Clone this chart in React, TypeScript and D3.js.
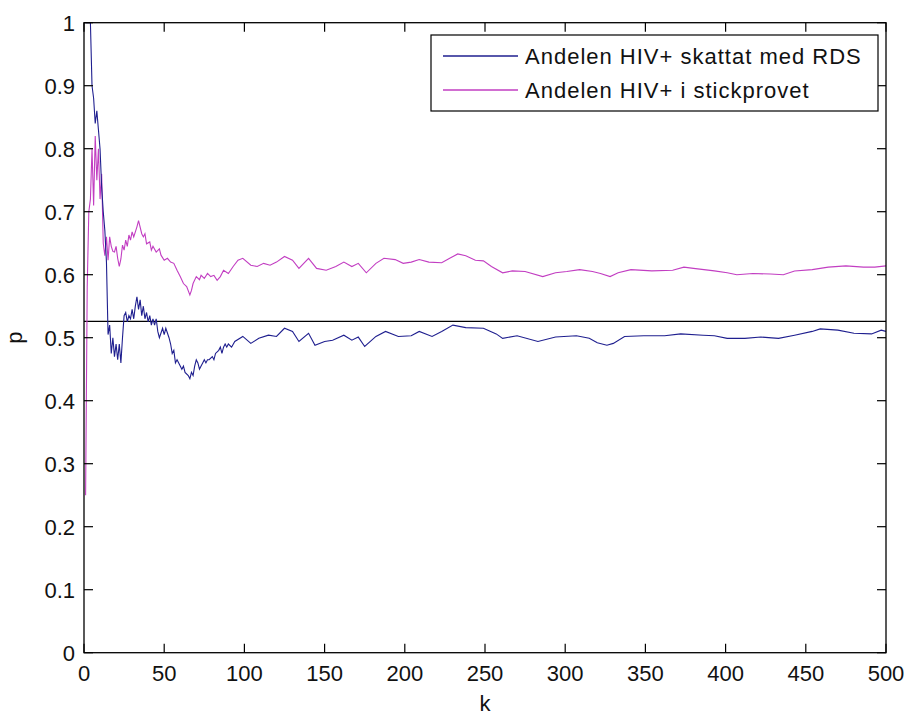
import React from "react";
import * as d3 from "d3";

const W = 907;
const H = 715;

// Estimated RDS series (blue)
const rdsK = [1, 4, 5, 6, 7, 8, 9, 10, 11, 12, 13, 14, 15, 16, 17, 18, 19, 20, 21, 22, 23, 24, 25, 26, 27, 28, 29, 30, 31, 32, 33, 34, 35, 36, 37, 38, 39, 40, 41, 42, 43, 44, 45, 46, 47, 49, 50, 51, 53, 54, 55, 56, 57, 58, 60, 61, 62, 63, 65, 66, 67, 68, 69, 70, 71, 72, 73, 74, 75, 76, 77, 78, 80, 81, 82, 84, 85, 86, 87, 88, 89, 90, 92, 94, 99, 104, 109, 115, 120, 125, 130, 134, 140, 144, 150, 155, 162, 167, 171, 175, 182, 188, 196, 204, 209, 217, 223, 230, 238, 249, 257, 261, 270, 283, 294, 307, 315, 320, 326, 330, 337, 349, 362, 372, 386, 393, 401, 412, 422, 433, 443, 454, 459, 470, 480, 491, 497, 500];
const rdsP = [1.0, 1.0, 0.9, 0.88, 0.84, 0.86, 0.83, 0.8, 0.74, 0.7, 0.67, 0.62, 0.505, 0.52, 0.475, 0.5, 0.47, 0.49, 0.465, 0.49, 0.46, 0.5, 0.535, 0.54, 0.525, 0.535, 0.53, 0.545, 0.53, 0.55, 0.565, 0.545, 0.56, 0.535, 0.55, 0.53, 0.54, 0.525, 0.535, 0.52, 0.53, 0.52, 0.53, 0.51, 0.5, 0.515, 0.505, 0.515, 0.5, 0.49, 0.475, 0.48, 0.46, 0.465, 0.455, 0.45, 0.455, 0.445, 0.44, 0.435, 0.445, 0.44, 0.455, 0.465, 0.46, 0.45, 0.455, 0.46, 0.465, 0.46, 0.465, 0.465, 0.47, 0.465, 0.475, 0.48, 0.485, 0.475, 0.485, 0.49, 0.485, 0.49, 0.485, 0.494, 0.502, 0.491, 0.499, 0.504, 0.502, 0.515, 0.51, 0.494, 0.507, 0.488, 0.494, 0.496, 0.504, 0.496, 0.501, 0.486, 0.502, 0.51, 0.502, 0.503, 0.51, 0.502, 0.51, 0.52, 0.516, 0.515, 0.506, 0.499, 0.503, 0.494, 0.501, 0.503, 0.499, 0.492, 0.488, 0.491, 0.502, 0.503, 0.503, 0.506, 0.504, 0.503, 0.499, 0.499, 0.501, 0.499, 0.504, 0.51, 0.514, 0.512, 0.507, 0.506, 0.512, 0.51];

// Estimated sample share series (magenta)
const sampleK = [1, 2, 3, 4, 5, 6, 7, 8, 9, 10, 11, 12, 13, 14, 15, 16, 17, 18, 19, 20, 21, 22, 23, 24, 25, 26, 27, 28, 29, 30, 31, 33, 34, 36, 37, 38, 39, 41, 42, 43, 45, 47, 48, 50, 52, 54, 56, 58, 60, 62, 64, 66, 67, 68, 70, 72, 73, 75, 77, 79, 81, 83, 85, 87, 90, 93, 96, 99, 104, 108, 112, 116, 120, 125, 130, 134, 140, 145, 151, 157, 162, 167, 171, 176, 182, 187, 194, 199, 204, 209, 215, 223, 228, 233, 238, 244, 249, 254, 261, 267, 275, 286, 294, 301, 309, 317, 322, 328, 333, 341, 354, 367, 374, 380, 393, 401, 407, 417, 428, 436, 443, 454, 464, 475, 486, 493, 500];
const sampleP = [0.25, 0.58, 0.7, 0.72, 0.8, 0.71, 0.82, 0.75, 0.8, 0.72, 0.76, 0.65, 0.63, 0.66, 0.623, 0.66, 0.645, 0.637, 0.636, 0.645, 0.626, 0.613, 0.625, 0.647, 0.639, 0.655, 0.645, 0.663, 0.655, 0.668, 0.66, 0.676, 0.686, 0.665, 0.66, 0.665, 0.649, 0.652, 0.639, 0.645, 0.636, 0.641, 0.631, 0.623, 0.626, 0.62, 0.618, 0.607, 0.597, 0.586, 0.581, 0.568, 0.575, 0.586, 0.597, 0.592, 0.599, 0.594, 0.602, 0.597, 0.599, 0.591, 0.597, 0.607, 0.602, 0.613, 0.623, 0.626, 0.615, 0.613, 0.618, 0.615, 0.62, 0.629, 0.623, 0.61, 0.626, 0.61, 0.607, 0.613, 0.62, 0.613, 0.618, 0.603, 0.618, 0.626, 0.624, 0.618, 0.62, 0.624, 0.62, 0.619, 0.626, 0.633, 0.63, 0.623, 0.622, 0.613, 0.603, 0.606, 0.605, 0.597, 0.603, 0.605, 0.608, 0.605, 0.602, 0.597, 0.603, 0.608, 0.606, 0.607, 0.612, 0.61, 0.606, 0.603, 0.6, 0.602, 0.601, 0.6, 0.606, 0.608, 0.612, 0.614, 0.612, 0.612, 0.614];

const refLevel = 0.526;
const xTicks = [0, 50, 100, 150, 200, 250, 300, 350, 400, 450, 500];
const yTicks = [0, 0.1, 0.2, 0.3, 0.4, 0.5, 0.6, 0.7, 0.8, 0.9, 1];
const legendLabels = ["Andelen HIV+ skattat med RDS", "Andelen HIV+ i stickprovet"];
const seriesColors = ["#1f1f8f", "#c23ec2"];

const L = 84, R = 886, T = 22.7, B = 652.7;
const FONT = "'Liberation Sans', Arial, sans-serif";

export default function App() {
  const x = d3.scaleLinear().domain([0, 500]).range([L, R]);
  const y = d3.scaleLinear().domain([0, 1]).range([B, T]);
  const line = d3
    .line<[number, number]>()
    .x((d) => x(d[0]))
    .y((d) => y(d[1]));
  const rds: [number, number][] = rdsK.map((k, i) => [k, rdsP[i]]);
  const smp: [number, number][] = sampleK.map((k, i) => [k, sampleP[i]]);
  const tickLen = 9;
  const fmtY = (v: number) => (v === 0 || v === 1 ? String(v) : v.toFixed(1));

  const legX = 431, legY = 35, legW = 878 - 431, legH = 76;
  const rowY = [56, 90];

  return (
    <svg
      width={W}
      height={H}
      style={{ position: "absolute", left: 0, top: 0, background: "#fff" }}
      fontFamily={FONT}
    >
      <rect x={0} y={0} width={W} height={H} fill="#fff" />
      <defs>
        <clipPath id="plotclip">
          <rect x={L} y={T} width={R - L} height={B - T} />
        </clipPath>
      </defs>
      <g clipPath="url(#plotclip)">
        <line x1={x(0)} x2={x(500)} y1={y(refLevel)} y2={y(refLevel)} stroke="#000" strokeWidth={1.3} />
        <path d={line(smp) || ""} fill="none" stroke={seriesColors[1]} strokeWidth={1.1} />
        <path d={line(rds) || ""} fill="none" stroke={seriesColors[0]} strokeWidth={1.1} />
      </g>
      <rect x={L} y={T} width={R - L} height={B - T} fill="none" stroke="#000" strokeWidth={1.3} />
      {xTicks.map((t) => (
        <g key={"x" + t}>
          <line x1={x(t)} x2={x(t)} y1={B} y2={B - tickLen} stroke="#000" strokeWidth={1.2} />
          <line x1={x(t)} x2={x(t)} y1={T} y2={T + tickLen} stroke="#000" strokeWidth={1.2} />
          <text x={x(t)} y={681} textAnchor="middle" fontSize={22} fill="#111">
            {t}
          </text>
        </g>
      ))}
      {yTicks.map((t) => (
        <g key={"y" + t}>
          <line x1={L} x2={L + tickLen} y1={y(t)} y2={y(t)} stroke="#000" strokeWidth={1.2} />
          <line x1={R} x2={R - tickLen} y1={y(t)} y2={y(t)} stroke="#000" strokeWidth={1.2} />
          <text x={75} y={y(t) + 8} textAnchor="end" fontSize={22} fill="#111">
            {fmtY(t)}
          </text>
        </g>
      ))}
      <text x={(L + R) / 2} y={711} textAnchor="middle" fontSize={22} fill="#111">
        k
      </text>
      <text
        transform={`translate(22, ${(T + B) / 2}) rotate(-90)`}
        textAnchor="middle"
        fontSize={22}
        fill="#111"
      >
        p
      </text>
      <rect x={legX} y={legY} width={legW} height={legH} fill="#fff" stroke="#000" strokeWidth={1.2} />
      {legendLabels.map((lab, i) => (
        <g key={lab}>
          <line x1={443} x2={518} y1={rowY[i]} y2={rowY[i]} stroke={seriesColors[i]} strokeWidth={1.3} />
          <text x={525} y={rowY[i] + 8} fontSize={22} letterSpacing={1} fill="#111">
            {lab}
          </text>
        </g>
      ))}
    </svg>
  );
}
